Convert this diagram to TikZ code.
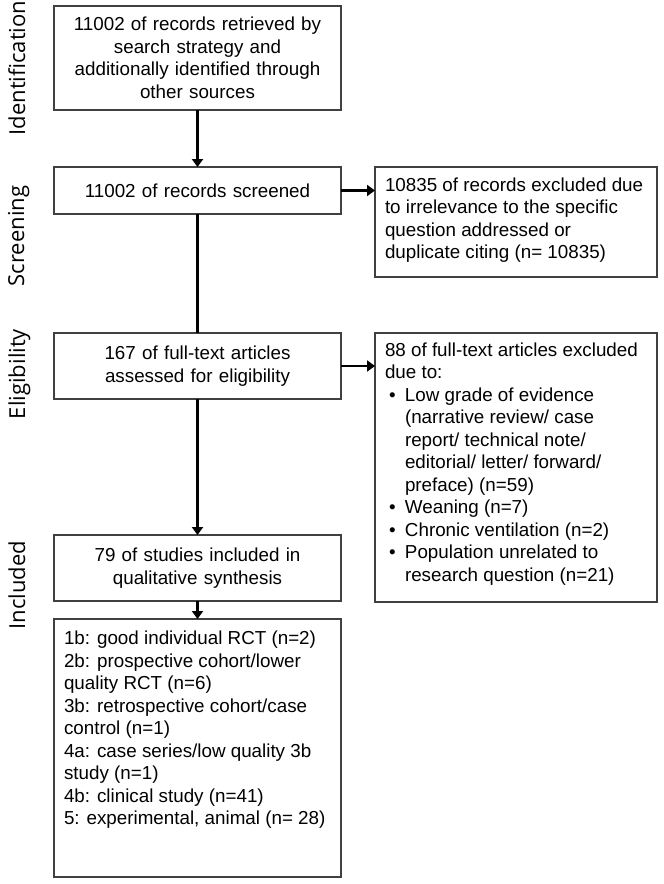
\documentclass[tikz,border=0pt]{standalone}
\usepackage{fontspec}
\setmainfont{Liberation Sans}
\newfontfamily\sidefont{Open Sans}
\usetikzlibrary{arrows.meta}
\begin{document}
\begin{tikzpicture}[x=1pt,y=-1pt,
  boxx/.style={draw=black!75, line width=1.3pt, inner sep=0pt, outer sep=0pt,
    font=\fontsize{18.8}{22.5}\selectfont},
  mainbox/.style={boxx, minimum width=287pt, align=center, text width=280pt},
  txt/.style={inner sep=0pt, outer sep=0pt, align=left, font=\fontsize{18.8}{22.5}\selectfont},
  flow/.style={line width=2.6pt, -{Triangle[length=8pt,width=11pt]}},
  plain/.style={line width=2.6pt},
  phase/.style={rotate=90, anchor=base, inner sep=0pt, font=\sidefont\fontsize{22}{24}\selectfont}
]
\useasboundingbox (0,0) rectangle (664,884);
\fill[white] (0,0) rectangle (664,884);

% phase labels
\node[phase] (pid) at (25,68) {Identification};
\node[phase] (psc) at (24,236) {Screening};
\node[phase] (pel) at (25,374) {Eligibility};
\node[phase] (pin) at (25,585) {Included};

% main column
\node[mainbox, minimum height=104pt] (b1) at (197.5,58) {11002 of records retrieved by\\search strategy and\\additionally identified through\\other sources};
\node[mainbox, minimum height=47pt] (b2) at (197.5,190.5) {11002 of records screened};
\node[mainbox, minimum height=66pt] (b3) at (197.5,366) {167 of full-text articles\\assessed for eligibility};
\node[mainbox, minimum height=66pt] (b4) at (197.5,568) {79 of studies included in\\qualitative synthesis};
\node[boxx, minimum width=287pt, minimum height=258pt, anchor=north west] (b5) at (54,619) {};
\node[txt, anchor=north west] (b5t) at ([xshift=10pt,yshift=-12pt]b5.north west)
 {1b: good individual RCT (n=2)\\2b: prospective cohort/lower\\quality RCT (n=6)\\3b: retrospective cohort/case\\control (n=1)\\4a: case series/low quality 3b\\study (n=1)\\4b: clinical study (n=41)\\5: experimental, animal (n= 28)};

% side boxes
\node[boxx, minimum width=282pt, minimum height=110pt, anchor=north west] (r1) at (375,167) {};
\node[txt, anchor=west] (r1t) at (385,220) {10835 of records excluded due\\to irrelevance to the specific\\question addressed or\\duplicate citing (n= 10835)};
\node[boxx, minimum width=282pt, minimum height=269pt, anchor=north west] (r2) at (375,333) {};
\node[txt, anchor=west] (r2t) at (385,464) {88 of full-text articles excluded\\due to:\\
\makebox[20pt][l]{\hspace{4pt}•}Low grade of evidence\\
\hspace*{20pt}(narrative review/ case\\
\hspace*{20pt}report/ technical note/\\
\hspace*{20pt}editorial/ letter/ forward/\\
\hspace*{20pt}preface) (n=59)\\
\makebox[20pt][l]{\hspace{4pt}•}Weaning (n=7)\\
\makebox[20pt][l]{\hspace{4pt}•}Chronic ventilation (n=2)\\
\makebox[20pt][l]{\hspace{4pt}•}Population unrelated to\\
\hspace*{20pt}research question (n=21)};

% connectors
\draw[flow] (b1.south) -- (b2.north);
\draw[plain] (b2.south) -- (b3.north);
\draw[flow] (b3.south) -- (b4.north);
\draw[flow] (b4.south) -- (b5.north);
\draw[flow] (b2.east) -- (b2.east -| r1.west);
\draw[flow] (b3.east) -- (b3.east -| r2.west);
\end{tikzpicture}
\end{document}
